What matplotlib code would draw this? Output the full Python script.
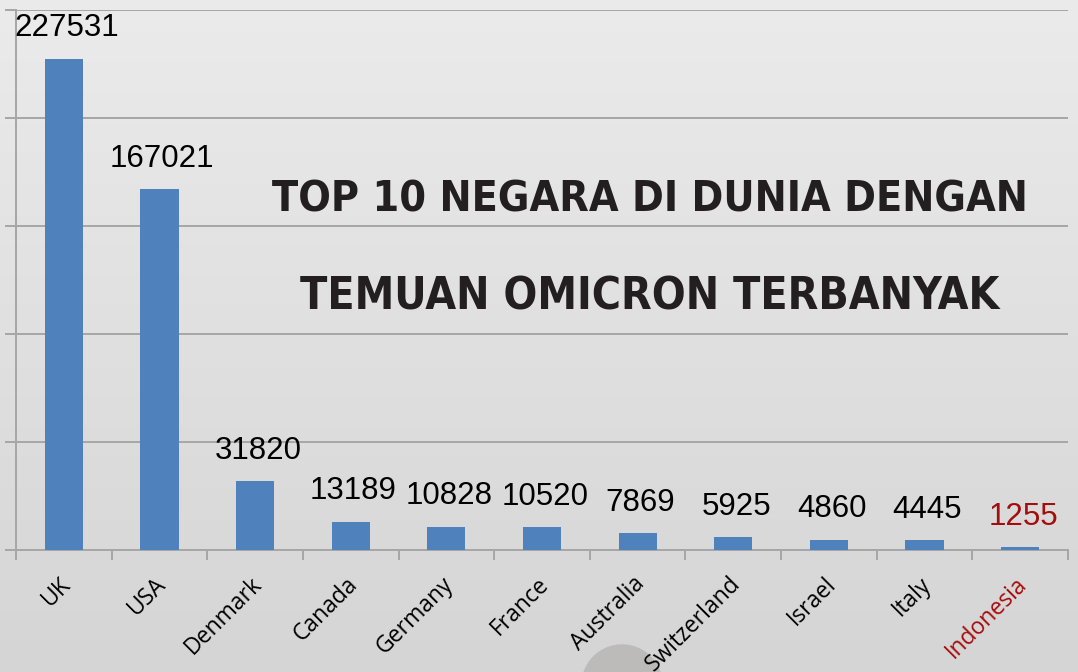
import matplotlib.pyplot as plt
import numpy as np
from matplotlib.patches import Circle
from matplotlib.ticker import FixedLocator
from matplotlib.transforms import ScaledTranslation

countries = ['UK', 'USA', 'Denmark', 'Canada', 'Germany', 'France', 'Australia',
             'Switzerland', 'Israel', 'Italy', 'Indonesia']
cases = [227531, 167021, 31820, 13189, 10828, 10520, 7869, 5925, 4860, 4445, 1255]
y_grid = [0, 50000, 100000, 150000, 200000, 250000]
title_lines = ['TOP 10 NEGARA DI DUNIA DENGAN', 'TEMUAN OMICRON TERBANYAK']

BAR = '#4F81BD'
GRID = '#a6a6a6'
RED = '#a50c0c'

fig = plt.figure(figsize=(10.78, 6.72), dpi=100)

# background gradient
bg = fig.add_axes([0, 0, 1, 1], zorder=-10)
grad = np.linspace(0, 1, 256).reshape(-1, 1)
bg.imshow(grad, aspect='auto', cmap=plt.matplotlib.colors.LinearSegmentedColormap.from_list(
    'g', ['#ebebeb', '#d5d5d5']), extent=[0, 1, 0, 1], origin='upper')
bg.axis('off')

# decorative circle at bottom (behind the labels)
bg.add_patch(Circle((6.22, -0.13), 0.40, transform=fig.dpi_scale_trans,
                    color='#bdbaba', zorder=5, clip_on=False))

ax = fig.add_axes([16 / 1078, 1 - 550 / 672, (1068 - 16) / 1078, (550 - 10) / 672])
ax.patch.set_alpha(0)
x = np.arange(len(countries))
ax.bar(x, cases, width=0.4, color=BAR, zorder=3)
ax.set_xlim(-0.5, len(countries) - 0.5)
ax.set_ylim(0, 250000)

for xi, v in zip(x, cases):
    ax.annotate(str(v), (xi, v), xytext=(2, 16), textcoords='offset points',
                ha='center', va='baseline', fontsize=22.5,
                family='Liberation Sans', color=RED if countries[xi] == 'Indonesia' else 'black')

ax.set_yticks(y_grid)
ax.set_yticklabels([])
ax.yaxis.grid(True, color=GRID, linewidth=1.4, zorder=0)
ax.tick_params(axis='y', length=8, width=1.4, color=GRID, direction='out')

ax.set_xticks(x)
ax.set_xticklabels(countries, rotation=45, ha='right', va='top', rotation_mode='anchor',
                   fontsize=16.5, family='Open Sans')
ax.tick_params(axis='x', which='major', length=0, pad=16)
ax.xaxis.set_minor_locator(FixedLocator(np.arange(-0.5, len(countries), 1)))
ax.tick_params(axis='x', which='minor', length=7, width=1.4, color=GRID, direction='out')
shift = ScaledTranslation(-0.05, 0, fig.dpi_scale_trans)
for lbl in ax.get_xticklabels():
    lbl.set_transform(lbl.get_transform() + shift)
    if lbl.get_text() == 'Indonesia':
        lbl.set_color(RED)

for s in ['top', 'right']:
    ax.spines[s].set_visible(False)
for s in ['left', 'bottom']:
    ax.spines[s].set_color(GRID)
    ax.spines[s].set_linewidth(1.4)

t1 = fig.text(650 / 1078, 1 - 212 / 672, title_lines[0], ha='center', va='baseline',
              fontsize=40, fontweight='bold', fontstretch='condensed', color='#231f20',
              family='DejaVu Sans')
t2 = fig.text(650 / 1078, 1 - 310 / 672, title_lines[1], ha='center', va='baseline',
              fontsize=40, fontweight='bold', fontstretch='condensed', color='#231f20',
              family='DejaVu Sans')

# fit title widths to the reference
r = fig.canvas.get_renderer()
for t, w in [(t1, 756), (t2, 700)]:
    cur = t.get_window_extent(r).width
    t.set_fontsize(40 * w / cur)

fig.savefig('out.png', dpi=100)
